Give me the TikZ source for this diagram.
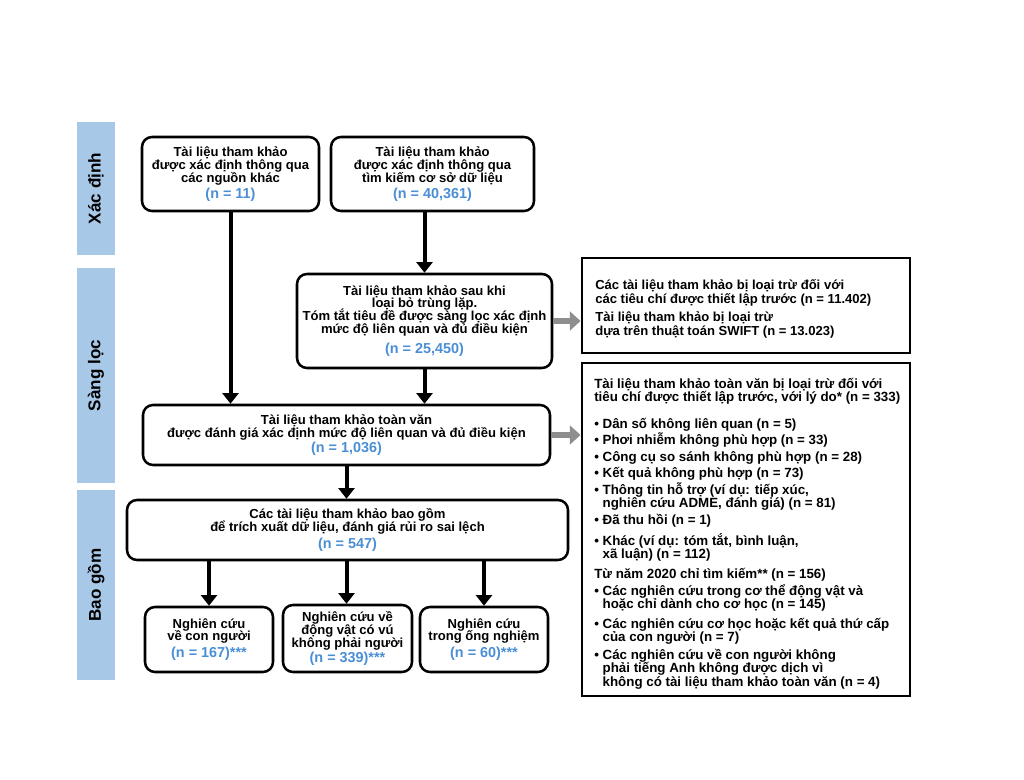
\documentclass[tikz,border=0pt]{standalone}
\usepackage{fontspec}
\setmainfont{Liberation Sans}
\usetikzlibrary{arrows.meta}
\definecolor{sideblue}{HTML}{A8C8E8}
\definecolor{nblue}{HTML}{4A8FD6}
\definecolor{garrow}{HTML}{8E8E8E}
\newcommand{\tightlns}{\setlength{\lineskiplimit}{-30pt}\setlength{\lineskip}{0pt}}
\newcommand{\nval}[1]{{\color{nblue}\fontsize{10.8}{9.6}\selectfont #1}}
\begin{document}
\begin{tikzpicture}[x=0.75pt,y=-0.75pt,
  side/.style={fill=sideblue,inner sep=0pt,rotate=90,font=\bfseries\fontsize{12.8}{13}\selectfont},
  rbox/.style={draw=black,line width=1.9pt,rounded corners=7.5pt,fill=white,inner sep=0pt,align=center,font=\tightlns\bfseries\fontsize{9.8}{9.6}\selectfont},
  sbox/.style={draw=black,line width=2.2pt,inner sep=0pt},
  blk/.style={line width=3pt,-{Triangle[width=12pt,length=8pt]}},
  gry/.style={draw=garrow,line width=4.5pt,-{Triangle[width=14pt,length=8pt]}},
  ltxt/.style={inner sep=0pt,align=left,anchor=north west,font=\tightlns\bfseries\fontsize{10}{10}\selectfont}
]
\useasboundingbox (0,0) rectangle (1024,780);
\fill[white] (0,0) rectangle (1024,780);

% side labels
\node[side,minimum width=133*0.75pt,minimum height=38*0.75pt] (s1) at (96,188.5) {Xác định};
\node[side,minimum width=215*0.75pt,minimum height=38*0.75pt] (s2) at (96,375.5) {Sàng lọc};
\node[side,minimum width=190*0.75pt,minimum height=38*0.75pt] (s3) at (96,585) {Bao gồm};

% main boxes
\node[rbox,minimum width=177*0.75pt,minimum height=74*0.75pt] (A) at (230.5,174)
  {Tài liệu tham khảo\\được xác định thông qua\\các nguồn khác\\[2.5pt]\nval{(n = 11)}};
\node[rbox,minimum width=203*0.75pt,minimum height=74*0.75pt] (B) at (432.5,174)
  {Tài liệu tham khảo\\được xác định thông qua\\tìm kiếm cơ sở dữ liệu\\[2.5pt]\nval{(n = 40,361)}};
\node[rbox,minimum width=255*0.75pt,minimum height=94*0.75pt] (C) at (424.5,321)
  {Tài liệu tham khảo sau khi\\loại bỏ trùng lặp.\\Tóm tắt tiêu đề được sàng lọc xác định\\mức độ liên quan và đủ điều kiện\\[5.5pt]\nval{(n = 25,450)}};
\node[rbox,minimum width=407*0.75pt,minimum height=60*0.75pt] (D) at (346.5,435)
  {Tài liệu tham khảo toàn văn\\được đánh giá xác định mức độ liên quan và đủ điều kiện\\[1.5pt]\nval{(n = 1,036)}};
\node[rbox,minimum width=441*0.75pt,minimum height=60*0.75pt] (E) at (347.5,530)
  {Các tài liệu tham khảo bao gồm\\để trích xuất dữ liệu, đánh giá rủi ro sai lệch\\[3pt]\nval{(n = 547)}};
\node[rbox,minimum width=128*0.75pt,minimum height=65*0.75pt] (F1) at (209,639.5)
  {Nghiên cứu\\về con người\\[3pt]\nval{(n = 167)***}};
\node[rbox,minimum width=129*0.75pt,minimum height=67*0.75pt] (F2) at (347.5,638.5)
  {Nghiên cứu về\\động vật có vú\\không phải người\\[1.5pt]\nval{(n = 339)***}};
\node[rbox,minimum width=128*0.75pt,minimum height=65*0.75pt] (F3) at (484,639.5)
  {Nghiên cứu\\trong ống nghiệm\\[3pt]\nval{(n = 60)***}};

% right boxes
\node[sbox,minimum width=328*0.75pt,minimum height=95*0.75pt] (R1) at (746,305.5) {};
\node[ltxt,font=\tightlns\bfseries\fontsize{9.8}{10.5}\selectfont] (R1t) at (595,279)
  {Các tài liệu tham khảo bị loại trừ đối với\\các tiêu chí được thiết lập trước (n = 11.402)\\[3pt]Tài liệu tham khảo bị loại trừ\\dựa trên thuật toán SWIFT (n = 13.023)};
\node[sbox,minimum width=328*0.75pt,minimum height=333*0.75pt] (R2) at (746,529.5) {};
\node[ltxt] (R2t) at (594,378)
  {Tài liệu tham khảo toàn văn bị loại trừ đối với\\
   tiêu chí được thiết lập trước, với lý do* (n = 333)\\[9.8pt]
   • Dân số không liên quan (n = 5)\\[2.4pt]
   • Phơi nhiễm không phù hợp (n = 33)\\[2.4pt]
   • Công cụ so sánh không phù hợp (n = 28)\\[2.4pt]
   • Kết quả không phù hợp (n = 73)\\[2.4pt]
   • Thông tin hỗ trợ (ví dụ: tiếp xúc,\\
   \hphantom{• }nghiên cứu ADME, đánh giá) (n = 81)\\[2.7pt]
   • Đã thu hồi (n = 1)\\[5.3pt]
   • Khác (ví dụ: tóm tắt, bình luận,\\
   \hphantom{• }xã luận) (n = 112)\\[5pt]
   Từ năm 2020 chỉ tìm kiếm** (n = 156)\\[2.7pt]
   • Các nghiên cứu trong cơ thể động vật và\\
   \hphantom{• }hoặc chỉ dành cho cơ học (n = 145)\\[4.6pt]
   • Các nghiên cứu cơ học hoặc kết quả thứ cấp\\
   \hphantom{• }của con người (n = 7)\\[3.5pt]
   • Các nghiên cứu về con người không\\
   \hphantom{• }phải tiếng Anh không được dịch vì\\
   \hphantom{• }không có tài liệu tham khảo toàn văn (n = 4)};

% black arrows
\draw[blk] (A.south) -- (A.south |- D.north);
\draw[blk] (C.north |- B.south) -- (C.north);
\draw[blk] (C.south) -- (C.south |- D.north);
\draw[blk] (D.south) -- (D.south |- E.north);
\draw[blk] (F1.north |- E.south) -- (F1.north);
\draw[blk] (D.south |- E.south) -- (D.south |- F2.north);
\draw[blk] (F3.north |- E.south) -- (F3.north);

% gray arrows
\draw[gry] (C.east) -- (C.east -| R1.west);
\draw[gry] (D.east) -- (D.east -| R2.west);
\end{tikzpicture}
\end{document}
